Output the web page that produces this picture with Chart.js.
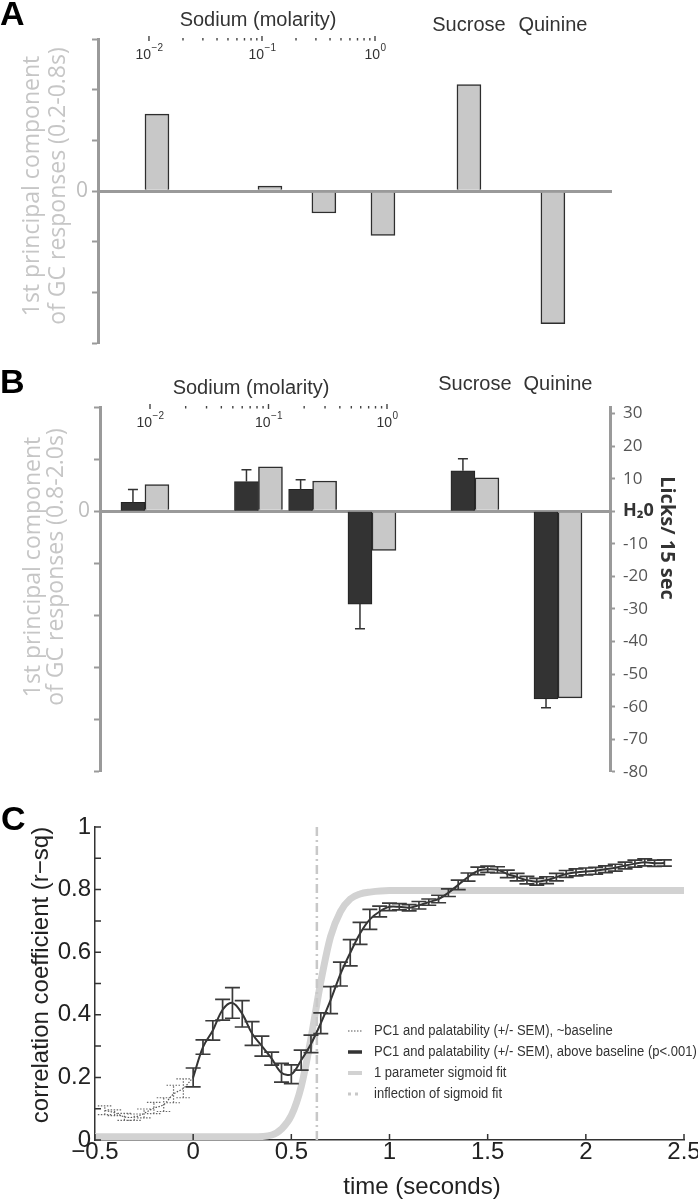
<!DOCTYPE html>
<html>
<head>
<meta charset="utf-8">
<title>PC1 and palatability</title>
<script src="https://cdn.jsdelivr.net/npm/chart.js@4.4.1/dist/chart.umd.min.js"></script>
<style>
  body { margin: 0; background: #fff; }
  #page { position: relative; width: 698px; height: 1199px; overflow: hidden; background: #fff; }
  .panel { position: absolute; left: 0; }
</style>
</head>
<body>
<div id="page">
  <canvas id="chartA" class="panel" width="698" height="360" style="top:0"></canvas>
  <canvas id="chartB" class="panel" width="698" height="430" style="top:360px"></canvas>
  <canvas id="chartC" class="panel" width="698" height="409" style="top:790px"></canvas>
</div>
<script>
// ---- data ----
const sodiumMolarity = [0.01, 0.1, 0.3, 1.0];
const otherTastes = ['Sucrose', 'Quinine'];
const sodiumDecades = [0.01, 0.1, 1];

// A: 1st PC of GC responses, 0.2-0.8 s (arbitrary units)
const pcEarlySodium = [1.52, 0.10, -0.43, -0.87];
const pcEarlyOther = [2.10, -2.61];

// B: 1st PC of GC responses, 0.8-2.0 s, and licks/15 s relative to water (+SEM)
const pcLateSodium = [0.51, 0.85, 0.58, -0.75];
const pcLateOther = [0.64, -3.58];
const licksSodium = [2.7, 9.1, 6.7, -28.5];
const licksOther = [12.4, -57.6];
const licksSemSodium = [4.0, 3.6, 3.0, 7.6];
const licksSemOther = [3.7, 2.7];

// C: r-sq between PC1 and palatability across time
const tBaseline = [-0.45, -0.4, -0.35, -0.3, -0.25, -0.2, -0.15, -0.1, -0.05];
const rBaseline = [0.095, 0.087, 0.074, 0.073, 0.085, 0.102, 0.113, 0.147, 0.165];
const semBaseline = [0.014, 0.009, 0.011, 0.010, 0.014, 0.018, 0.022, 0.028, 0.030];

const tAbove = [0, 0.05, 0.1, 0.15, 0.2, 0.25, 0.3, 0.35, 0.4, 0.45, 0.5, 0.55, 0.6, 0.65, 0.7,
  0.75, 0.8, 0.85, 0.9, 0.95, 1, 1.05, 1.1, 1.15, 1.2, 1.25, 1.3, 1.35, 1.4, 1.45, 1.5, 1.55,
  1.6, 1.65, 1.7, 1.75, 1.8, 1.85, 1.9, 1.95, 2, 2.05, 2.1, 2.15, 2.2, 2.25, 2.3, 2.35, 2.4];
const rAbove = [0.20, 0.297, 0.35, 0.416, 0.438, 0.403, 0.34, 0.30, 0.26, 0.215, 0.21, 0.255,
  0.307, 0.373, 0.447, 0.53, 0.598, 0.66, 0.705, 0.73, 0.745, 0.745, 0.742, 0.75, 0.76, 0.77,
  0.79, 0.815, 0.84, 0.86, 0.865, 0.863, 0.85, 0.84, 0.83, 0.825, 0.83, 0.84, 0.85, 0.855,
  0.858, 0.86, 0.865, 0.87, 0.877, 0.883, 0.887, 0.884, 0.885];
const semAbove = [0.03, 0.023, 0.031, 0.033, 0.049, 0.042, 0.038, 0.032, 0.021, 0.03, 0.03,
  0.032, 0.028, 0.033, 0.043, 0.038, 0.042, 0.035, 0.032, 0.017, 0.012, 0.01, 0.01, 0.012,
  0.01, 0.012, 0.012, 0.015, 0.013, 0.012, 0.01, 0.01, 0.012, 0.012, 0.012, 0.011, 0.011,
  0.012, 0.011, 0.011, 0.011, 0.011, 0.011, 0.011, 0.011, 0.011, 0.011, 0.01, 0.01];

// sigmoid fit
const tSigmoid = [-0.5, 0.3, 0.4, 0.45, 0.5, 0.55, 0.6, 0.65, 0.7, 0.75, 0.8, 0.85, 0.9, 1.0, 2.5];
const rSigmoid = [0.01, 0.01, 0.016, 0.035, 0.078, 0.17, 0.325, 0.505, 0.65, 0.73, 0.77, 0.786, 0.792, 0.797, 0.797];
const tInflection = 0.63;

// ---- layout ----
// where sucrose / quinine sit on the bar axis (log10 molarity units)
const slotA = [0.761, 1.504];
const slotB = [0.907, 1.639];

const FONT = "'Liberation Sans', Arial, sans-serif";
const OPEN = "'Open Sans', 'DejaVu Sans', sans-serif";
const AXIS = '#9a9a9a';
const LIGHT = '#c8c8c8';
const DARK = '#333333';
const EDGE = '#2e2e2e';

Chart.defaults.font.family = FONT;
Chart.defaults.animation = false;

function barPoints(slots, sodiumVals, otherVals) {
  return sodiumMolarity.map((m, i) => ({ x: Math.log10(m), y: sodiumVals[i] }))
    .concat(slots.map((s, i) => ({ x: s, y: otherVals[i] })));
}

function pairs(xs, ys) {
  return xs.map((x, i) => ({ x, y: ys[i] }));
}

function text(ctx, s, x, y, font, color, opt) {
  opt = opt || {};
  ctx.save();
  ctx.font = font;
  ctx.fillStyle = color;
  ctx.textAlign = opt.align || 'center';
  ctx.textBaseline = opt.baseline || 'middle';
  ctx.translate(x, y);
  if (opt.rotate) ctx.rotate(opt.rotate);
  if (opt.scaleX) ctx.scale(opt.scaleX, 1);
  ctx.fillText(s, 0, 0);
  ctx.restore();
}

// free text: panel letters, axis titles
const labels = {
  id: 'labels',
  afterDraw(chart, args, opts) {
    (opts.items || []).forEach(t => text(chart.ctx, t.text, t.x, t.y, t.font, t.color || '#222', t));
  }
};

// sodium log axis drawn along the top of panels A and B, plus tastant names
const sodiumAxis = {
  id: 'sodiumAxis',
  afterDraw(chart, args, opts) {
    const ctx = chart.ctx;
    const sc = chart.scales.xLog;
    const top = chart.chartArea.top;
    ctx.save();
    ctx.strokeStyle = '#444';
    ctx.lineWidth = 1.4;
    ctx.beginPath();
    for (let d = 0; d < sodiumDecades.length - 1; d++) {
      for (let m = 2; m <= 9; m++) {
        const px = sc.getPixelForValue(sodiumDecades[d] * m);
        ctx.moveTo(px, top - 1);
        ctx.lineTo(px, top + 1.5);
      }
    }
    sodiumDecades.forEach(v => {
      const px = sc.getPixelForValue(v);
      ctx.moveTo(px, top - 3);
      ctx.lineTo(px, top + 2);
    });
    ctx.stroke();

    sodiumDecades.forEach(v => {
      const px = sc.getPixelForValue(v);
      const exp = Math.round(Math.log10(v));
      const sup = exp < 0 ? '\u2212' + Math.abs(exp) : String(exp);
      ctx.font = '14px ' + FONT;
      const w10 = ctx.measureText('10').width;
      ctx.font = '10px ' + FONT;
      const wSup = ctx.measureText(sup).width;
      const x0 = px - (w10 + wSup) / 2;
      text(ctx, '10', x0, top + 16, '14px ' + FONT, '#333', { align: 'left' });
      text(ctx, sup, x0 + w10 + 0.5, top + 9, '10px ' + FONT, '#333', { align: 'left' });
    });
    ctx.restore();

    text(ctx, 'Sodium (molarity)', opts.titleX, opts.titleY, '20px ' + FONT, '#333');
    const xs = chart.scales.x;
    opts.slots.forEach((s, i) => {
      text(ctx, otherTastes[i], xs.getPixelForValue(s), opts.tasteY, '20px ' + FONT, '#333');
    });
  }
};

// error bars; 'outward' bars only extend away from zero
const errorBars = {
  id: 'errorBars',
  afterDatasetsDraw(chart) {
    const ctx = chart.ctx;
    chart.data.datasets.forEach((ds, i) => {
      if (!ds.errors) return;
      const meta = chart.getDatasetMeta(i);
      const ys = chart.scales[meta.yAxisID];
      ctx.save();
      ctx.strokeStyle = ds.errorColor;
      ctx.lineWidth = ds.errorWidth;
      ctx.setLineDash(ds.errorDash || []);
      ctx.beginPath();
      meta.data.forEach((el, j) => {
        const e = ds.errors[j];
        if (e == null) return;
        const v = ds.data[j].y;
        const x = el.x;
        const c = ds.capHalf;
        let ends;
        if (ds.errorMode === 'outward') {
          ends = [ys.getPixelForValue(v + Math.sign(v) * e)];
          ctx.moveTo(x, ys.getPixelForValue(v));
          ctx.lineTo(x, ends[0]);
        } else {
          ends = [ys.getPixelForValue(v - e), ys.getPixelForValue(v + e)];
          ctx.moveTo(x, ends[0]);
          ctx.lineTo(x, ends[1]);
        }
        ends.forEach(py => { ctx.moveTo(x - c, py); ctx.lineTo(x + c, py); });
      });
      ctx.stroke();
      ctx.restore();
    });
  }
};

function leftAxis(min, max, width) {
  return {
    position: 'left', min, max,
    afterFit: s => { s.width = width; },
    ticks: {
      stepSize: 1, autoSkip: false, padding: 4, color: '#bdbdbd',
      font: { family: OPEN, size: 21 },
      callback: v => (v === 0 ? '0' : '')
    },
    grid: {
      color: c => (c.tick && c.tick.value === 0 ? AXIS : 'rgba(0,0,0,0)'),
      lineWidth: c => (c.tick && c.tick.value === 0 ? 3 : 1),
      tickColor: AXIS, tickWidth: 2, tickLength: 6
    },
    border: { color: AXIS, width: 3 }
  };
}

function gcTitle(window, x1, x2, y) {
  const f = '23px ' + OPEN;
  return [
    { text: '1st principal component', x: x1, y, font: f, color: '#c6c6c6', rotate: -Math.PI / 2 },
    { text: 'of GC responses (' + window + ')', x: x2, y, font: f, color: '#c6c6c6', rotate: -Math.PI / 2 }
  ];
}

// ---- panel A ----
new Chart(document.getElementById('chartA'), {
  type: 'bar',
  data: {
    datasets: [{
      data: barPoints(slotA, pcEarlySodium, pcEarlyOther),
      backgroundColor: LIGHT, borderColor: EDGE, borderWidth: 1.5, barThickness: 24
    }]
  },
  options: {
    responsive: false,
    layout: { padding: { top: 39, bottom: 13, right: 86, left: 0 } },
    plugins: {
      legend: { display: false },
      tooltip: { enabled: false },
      sodiumAxis: { titleX: 258, titleY: 20, tasteY: 25, slots: slotA },
      labels: {
        items: [{ text: 'A', x: 0, y: 25, font: 'bold 34px ' + FONT, color: '#000', align: 'left', baseline: 'alphabetic' }]
          .concat(gcTitle('0.2-0.8s', 32, 58, 186))
      }
    },
    scales: {
      x: { type: 'linear', display: false, offset: false, min: -2.522, max: 2.027 },
      xLog: { type: 'logarithmic', display: false, min: Math.pow(10, -2.451), max: Math.pow(10, 2.097) },
      y: leftAxis(-3, 3, 98)
    }
  },
  plugins: [sodiumAxis, labels]
});

// ---- panel B ----
new Chart(document.getElementById('chartB'), {
  type: 'bar',
  data: {
    datasets: [{
      label: 'Licks/15 sec',
      data: barPoints(slotB, licksSodium, licksOther),
      yAxisID: 'y1',
      backgroundColor: DARK, borderColor: '#222', borderWidth: 1, barThickness: 24,
      errors: licksSemSodium.concat(licksSemOther),
      errorMode: 'outward', errorColor: '#333', errorWidth: 1.5, capHalf: 5
    }, {
      label: 'PC1 0.8-2.0s',
      data: barPoints(slotB, pcLateSodium, pcLateOther),
      yAxisID: 'y',
      backgroundColor: LIGHT, borderColor: EDGE, borderWidth: 1.5, barThickness: 24
    }]
  },
  options: {
    responsive: false,
    layout: { padding: { top: 47, bottom: 13, right: 0, left: 0 } },
    plugins: {
      legend: { display: false },
      tooltip: { enabled: false },
      sodiumAxis: { titleX: 251, titleY: 28, tasteY: 24, slots: slotB },
      labels: {
        items: [
          { text: 'B', x: 0, y: 33, font: 'bold 34px ' + FONT, color: '#000', align: 'left', baseline: 'alphabetic' },
          { text: 'Licks/ 15 sec', x: 667, y: 178, font: 'bold 20px ' + OPEN, color: '#333', rotate: Math.PI / 2 }
        ].concat(gcTitle('0.8-2.0s', 33, 56, 207))
      }
    },
    scales: {
      x: { type: 'linear', display: false, offset: false, min: -2.396, max: 2.097 },
      xLog: { type: 'logarithmic', display: false, min: Math.pow(10, -2.422), max: Math.pow(10, 1.882) },
      y: leftAxis(-5, 2, 100),
      y1: {
        position: 'right', min: -80, max: 32,
        afterFit: s => { s.width = 88; },
        ticks: {
          stepSize: 10, includeBounds: false, autoSkip: false, padding: 8,
          color: c => (c.tick && c.tick.value === 0 ? '#333' : '#555'),
          font: c => ({ family: OPEN, size: c.tick && c.tick.value === 0 ? 18 : 17, weight: c.tick && c.tick.value === 0 ? 'bold' : 'normal' }),
          callback: v => (v === 0 ? 'H\u20820' : v)
        },
        grid: { drawOnChartArea: false, tickColor: AXIS, tickWidth: 2, tickLength: 5 },
        border: { color: AXIS, width: 3 }
      }
    }
  },
  plugins: [sodiumAxis, errorBars, labels]
});

// ---- panel C ----
const innerTicks = {
  id: 'innerTicks',
  afterDraw(chart) {
    const { ctx, chartArea: a, scales: { x, y } } = chart;
    ctx.save();
    ctx.strokeStyle = '#333';
    ctx.lineWidth = 1.5;
    ctx.beginPath();
    x.ticks.forEach(t => {
      const px = x.getPixelForValue(t.value);
      ctx.moveTo(px, a.bottom);
      ctx.lineTo(px, a.bottom - 6);
    });
    y.ticks.forEach(t => {
      const py = y.getPixelForValue(t.value);
      ctx.moveTo(a.left, py);
      ctx.lineTo(a.left + 6, py);
    });
    ctx.stroke();
    ctx.restore();
  }
};

const legendC = {
  id: 'legendC',
  afterDraw(chart, args, opts) {
    const ctx = chart.ctx;
    chart.data.datasets.forEach((ds, i) => {
      const y = opts.y + i * opts.step;
      const s = ds.sample;
      ctx.save();
      ctx.strokeStyle = ds.borderColor;
      ctx.lineWidth = s.width;
      ctx.setLineDash(s.dash || []);
      ctx.beginPath();
      ctx.moveTo(opts.x - 26, y);
      ctx.lineTo(opts.x - 12, y);
      ctx.stroke();
      ctx.restore();
      text(ctx, ds.label, opts.x, y, '14px ' + FONT, '#333', { align: 'left', scaleX: 0.93 });
    });
  }
};

new Chart(document.getElementById('chartC'), {
  type: 'line',
  data: {
    datasets: [{
      label: 'PC1 and palatability (+/- SEM), ~baseline',
      data: pairs(tBaseline, rBaseline).concat([{ x: tAbove[0], y: rAbove[0] }]),
      borderColor: '#555', borderWidth: 1.2, borderDash: [1.5, 1.5], pointRadius: 0, tension: 0.35, order: 1,
      errors: semBaseline.concat([null]), errorColor: '#666', errorWidth: 1.2, errorDash: [1.5, 1.5], capHalf: 7,
      sample: { width: 1.2, dash: [1.5, 1.5] }
    }, {
      label: 'PC1 and palatability (+/- SEM), above baseline (p<.001)',
      data: pairs(tAbove, rAbove),
      borderColor: DARK, borderWidth: 2, pointRadius: 0, tension: 0.35, order: 0,
      errors: semAbove, errorColor: '#3a3a3a', errorWidth: 1.7, capHalf: 7.5,
      sample: { width: 3.5 }
    }, {
      label: '1 parameter sigmoid fit',
      data: pairs(tSigmoid, rSigmoid),
      borderColor: '#d2d2d2', borderWidth: 7, pointRadius: 0, cubicInterpolationMode: 'monotone', order: 3,
      sample: { width: 4 }
    }, {
      label: 'inflection of sigmoid fit',
      data: [{ x: tInflection, y: 0 }, { x: tInflection, y: 1 }],
      borderColor: '#c8c8c8', borderWidth: 2.5, borderDash: [9, 4, 2, 4], pointRadius: 0, order: 2,
      sample: { width: 3, dash: [3, 4] }
    }]
  },
  options: {
    responsive: false,
    layout: { padding: { top: 37, right: 14, left: 0, bottom: 0 } },
    plugins: {
      legend: { display: false },
      tooltip: { enabled: false },
      legendC: { x: 374, y: 241, step: 21 },
      labels: {
        items: [
          { text: 'C', x: 1, y: 40, font: 'bold 34px ' + FONT, color: '#000', align: 'left', baseline: 'alphabetic' },
          { text: 'correlation coefficient (r\u2212sq)', x: 41, y: 185, font: '24px ' + FONT, color: '#222', rotate: -Math.PI / 2 },
          { text: 'time (seconds)', x: 422, y: 397, font: '24px ' + FONT, color: '#222' }
        ]
      }
    },
    scales: {
      x: {
        type: 'linear', min: -0.5, max: 2.5,
        afterFit: s => { s.height = 59; s.paddingLeft = 0; s.paddingRight = 0; },
        ticks: {
          stepSize: 0.5, autoSkip: false, padding: 0, color: '#222',
          font: { size: 24, lineHeight: 1 },
          callback: v => (v < 0 ? '\u2212' + Math.abs(v) : String(v))
        },
        grid: { display: false, drawTicks: false },
        border: { color: DARK, width: 1.5 }
      },
      y: {
        min: 0, max: 1,
        afterFit: s => { s.width = 95; },
        ticks: {
          stepSize: 0.1, autoSkip: false, padding: 4, color: '#222',
          font: { size: 24 },
          callback: v => (Math.round(v * 10) % 2 === 0 ? String(Math.round(v * 10) / 10) : '')
        },
        grid: { display: false, drawTicks: false },
        border: { color: DARK, width: 1.5 }
      }
    }
  },
  plugins: [innerTicks, errorBars, legendC, labels]
});
</script>
</body>
</html>
